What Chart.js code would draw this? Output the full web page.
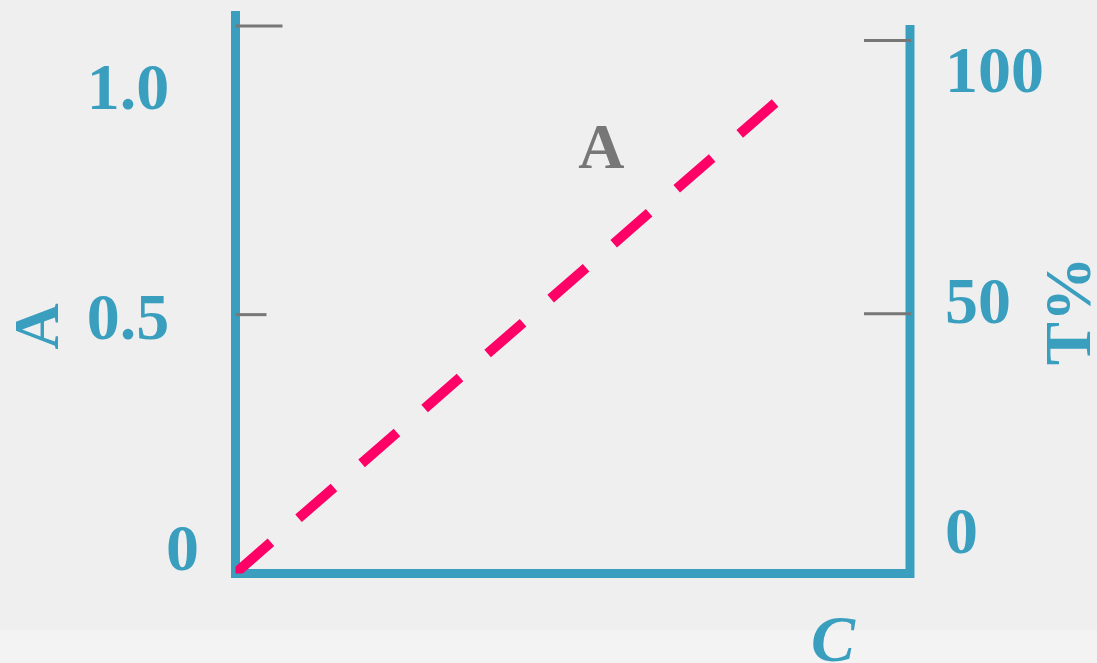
<!DOCTYPE html>
<html>
<head>
<meta charset="utf-8">
<script src="https://cdn.jsdelivr.net/npm/chart.js@4.4.1/dist/chart.umd.min.js"></script>
<style>
  html, body { margin: 0; padding: 0; background: #f3f3f3; }
  canvas { display: block; }
</style>
</head>
<body>
<canvas id="c" width="1097" height="663"></canvas>
<script>
// ---- data ----
const concentration = [0, 0.8];          // C (x)
const absorbance = [-0.045, 0.975];      // A (left axis)
const leftTickValues = [0, 0.5, 1.0];
const rightTickValues = [0, 50, 100];
const seriesLabel = 'A';
const xTitle = 'C';
const leftTitle = 'A';
const rightTitle = 'T%';

const TEAL = '#3a9fbf';
const PINK = '#ff0066';
const GRAY = '#777777';
const SERIF = '"Liberation Serif", "Times New Roman", serif';

const points = concentration.map((c, i) => ({ x: c, y: absorbance[i] }));

const decor = {
  id: 'decor',
  beforeDraw(chart) {
    const ctx = chart.ctx;
    ctx.save();
    ctx.fillStyle = '#f3f3f3';
    ctx.fillRect(0, 0, chart.width, chart.height);
    ctx.fillStyle = '#efefef';
    ctx.fillRect(0, 0, chart.width, 630);
    ctx.restore();
  },
  afterDraw(chart, args, opts) {
    const ctx = chart.ctx;
    const yl = chart.scales.y, yr = chart.scales.y2, xs = chart.scales.x;
    const area = chart.chartArea;
    ctx.save();
    // right axis line
    ctx.strokeStyle = TEAL;
    ctx.lineWidth = 9;
    ctx.beginPath();
    ctx.moveTo(area.right, 25);
    ctx.lineTo(area.right, area.bottom + 4.5);
    ctx.stroke();
    // small inner tick marks
    ctx.strokeStyle = GRAY;
    ctx.lineWidth = 3;
    opts.leftMarks.forEach(m => {
      const y = yl.getPixelForValue(m.v);
      ctx.beginPath();
      ctx.moveTo(area.left, y);
      ctx.lineTo(area.left + m.len, y);
      ctx.stroke();
    });
    opts.rightMarks.forEach(m => {
      const y = yr.getPixelForValue(m.v);
      ctx.beginPath();
      ctx.moveTo(area.right + 1, y);
      ctx.lineTo(area.right + 1 - m.len, y);
      ctx.stroke();
    });
    // series label inside plot
    ctx.fillStyle = GRAY;
    ctx.font = 'bold 64px ' + SERIF;
    ctx.textAlign = 'center';
    ctx.textBaseline = 'middle';
    ctx.fillText(seriesLabel, xs.getPixelForValue(opts.labelAt.x), yl.getPixelForValue(opts.labelAt.y));
    // right axis title (reads bottom to top)
    ctx.fillStyle = TEAL;
    ctx.font = 'bold 65px ' + SERIF;
    ctx.translate(1073.5, 311);
    ctx.rotate(-Math.PI / 2);
    ctx.fillText(rightTitle, 0, 0);
    ctx.restore();
  }
};

function fixV(width) {
  return s => { s.width = width; s.paddingTop = 0; s.paddingBottom = 0; };
}

new Chart(document.getElementById('c'), {
  type: 'line',
  data: {
    datasets: [{
      label: seriesLabel,
      data: points,
      borderColor: PINK,
      borderWidth: 10,
      borderDash: [47, 36.6],
      borderCapStyle: 'butt',
      pointRadius: 0,
      fill: false,
      tension: 0
    }]
  },
  options: {
    responsive: false,
    animation: false,
    events: [],
    layout: { padding: { top: 15.5, left: 0, right: 0, bottom: 0 } },
    plugins: {
      legend: { display: false },
      tooltip: { enabled: false },
      decor: {
        leftMarks: [{ v: 1.142, len: 47 }, { v: 0.516, len: 31 }],
        rightMarks: [{ v: 107.5, len: 47 }, { v: 48.2, len: 47 }],
        labelAt: { x: 0.5426, y: 0.869 }
      }
    },
    scales: {
      x: {
        type: 'linear',
        position: 'bottom',
        min: 0, max: 1,
        z: 1,
        afterFit(s) { s.height = 89.5; s.paddingLeft = 0; s.paddingRight = 0; },
        ticks: { display: false },
        grid: { display: true, drawOnChartArea: false, drawTicks: false, color: 'rgba(0,0,0,0)' },
        border: { display: true, color: TEAL, width: 9 },
        title: {
          display: true, text: xTitle + '\u2002 \u200A', align: 'end',
          color: TEAL,
          font: { family: SERIF, size: 66, weight: 'bold', style: 'italic', lineHeight: 0.55 },
          padding: { top: 0, bottom: 1 }
        }
      },
      y: {
        type: 'linear',
        position: 'left',
        min: -0.0456, max: 1.165,
        z: 1,
        afterFit: fixV(235.5),
        afterBuildTicks(s) { s.ticks = leftTickValues.map(v => ({ value: v })); },
        ticks: {
          color: TEAL,
          padding: 36.5,
          font: { family: SERIF, size: 66, weight: 'bold' },
          callback: v => v === 0 ? '0' : v.toFixed(1) + ' \u2009'
        },
        grid: { display: true, drawOnChartArea: false, drawTicks: false, color: 'rgba(0,0,0,0)' },
        border: { display: true, color: TEAL, width: 9 },
        title: {
          display: true, text: leftTitle + '\u2003', align: 'center',
          color: TEAL,
          font: { family: SERIF, size: 64, weight: 'bold', lineHeight: 1.2 },
          padding: { top: 3, bottom: 0 }
        }
      },
      y2: {
        type: 'linear',
        position: 'right',
        min: -8.13, max: 112.9,
        afterFit: fixV(187),
        afterBuildTicks(s) { s.ticks = rightTickValues.map(v => ({ value: v })); },
        ticks: {
          color: TEAL,
          padding: 35,
          font: { family: SERIF, size: 66, weight: 'bold' },
          callback: v => String(v)
        },
        grid: { display: false, drawOnChartArea: false, drawTicks: false },
        border: { display: false }
      }
    }
  },
  plugins: [decor]
});
</script>
</body>
</html>
